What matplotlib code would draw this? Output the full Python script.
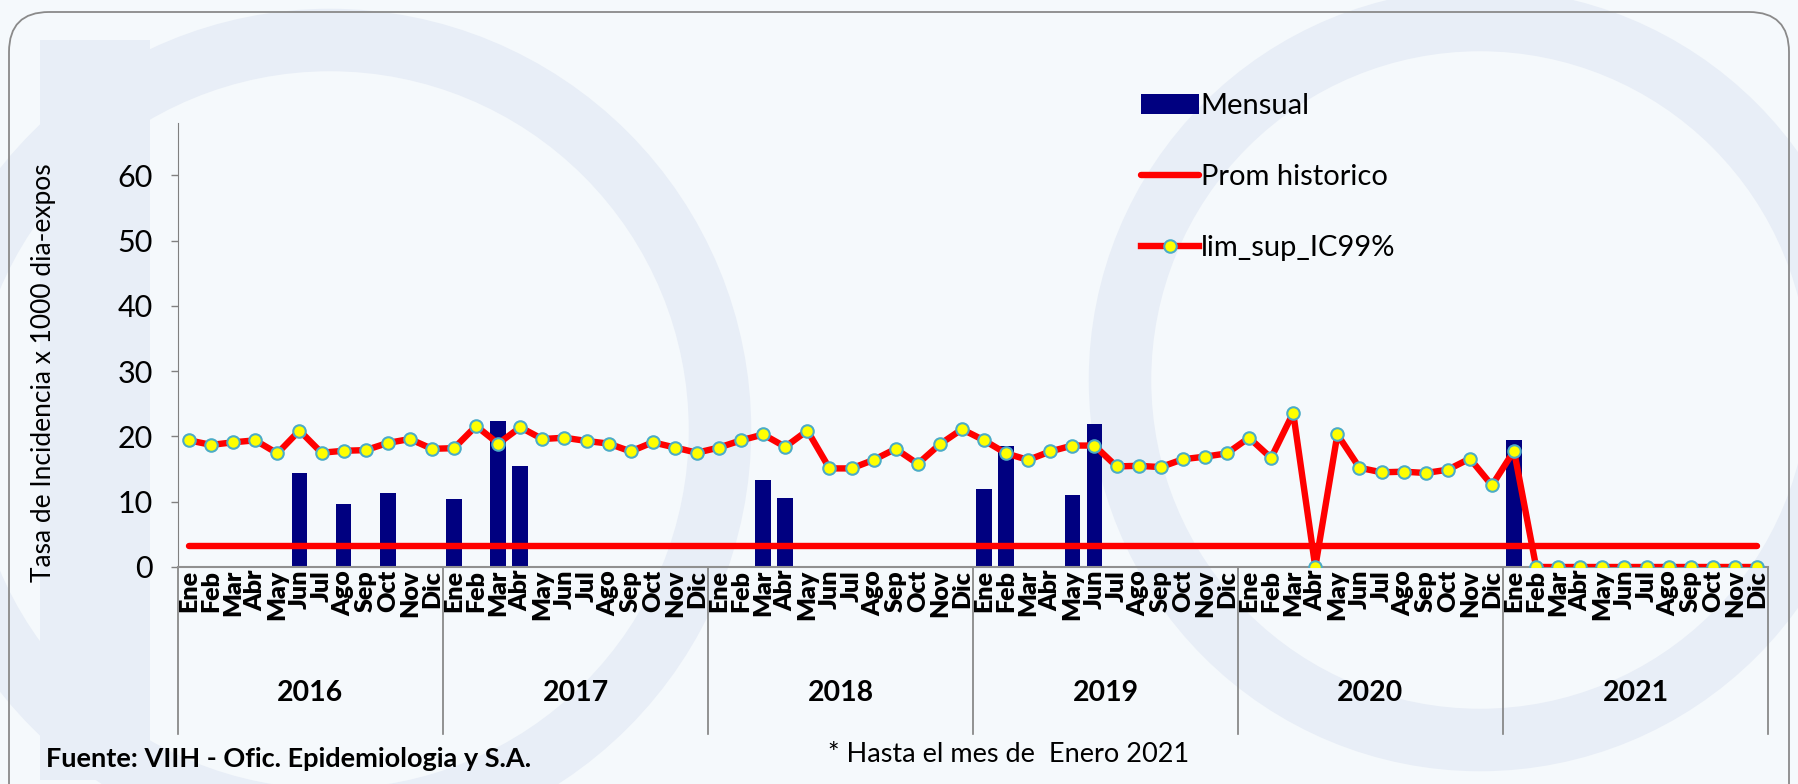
import matplotlib
matplotlib.use("Agg")
import matplotlib.pyplot as plt
from matplotlib.patches import FancyBboxPatch, Circle, Rectangle
import matplotlib.transforms as mtransforms

plt.rcParams['font.family'] = ['Lato', 'DejaVu Sans']

months = ['Ene', 'Feb', 'Mar', 'Abr', 'May', 'Jun', 'Jul', 'Ago', 'Sep', 'Oct', 'Nov', 'Dic']
years = ['2016', '2017', '2018', '2019', '2020', '2021']

mensual = [
    0, 0, 0, 0, 0, 14.4, 0, 9.7, 0, 11.4, 0, 0,
    10.4, 0, 22.4, 15.4, 0, 0, 0, 0, 0, 0, 0, 0,
    0, 0, 13.4, 10.6, 0, 0, 0, 0, 0, 0, 0, 0,
    12.0, 18.5, 0, 0, 11.0, 21.9, 0, 0, 0, 0, 0, 0,
    0, 0, 0, 0, 0, 0, 0, 0, 0, 0, 0, 0,
    19.5, 0, 0, 0, 0, 0, 0, 0, 0, 0, 0, 0,
]
lim_sup = [
    19.4, 18.7, 19.1, 19.4, 17.4, 20.9, 17.5, 17.8, 17.9, 19.0, 19.6, 18.1,
    18.2, 21.6, 18.9, 21.4, 19.6, 19.8, 19.3, 18.9, 17.7, 19.1, 18.3, 17.5,
    18.3, 19.4, 20.3, 18.4, 20.9, 15.1, 15.1, 16.4, 18.1, 15.8, 18.8, 21.1,
    19.4, 17.4, 16.4, 17.7, 18.6, 18.6, 15.4, 15.5, 15.3, 16.5, 16.9, 17.4,
    19.8, 16.7, 23.6, 0.0, 20.3, 15.2, 14.5, 14.6, 14.4, 14.9, 16.6, 12.5,
    17.8, 0, 0, 0, 0, 0, 0, 0, 0, 0, 0, 0,
]
prom_historico = 3.2
yticks = [0, 10, 20, 30, 40, 50, 60]

W, H = 1798, 784
fig = plt.figure(figsize=(W / 100, H / 100), dpi=100)
fig.patch.set_facecolor('#f5f9fc')

# faint watermark background
bg = fig.add_axes([0, 0, 1, 1], zorder=-10)
bg.set_xlim(0, W)
bg.set_ylim(H, 0)
bg.axis('off')
wm = '#e8eef7'
for (cx, cy, r, lw) in [(330, 430, 390, 45), (1480, 380, 360, 45)]:
    bg.add_patch(Circle((cx, cy), r, fill=False, ec=wm, lw=lw, zorder=-10))
bg.add_patch(Rectangle((40, 40), 110, 740, color=wm, zorder=-10, lw=0))
bg.add_patch(FancyBboxPatch((9, 12), W - 18, H + 40, boxstyle="round,pad=0,rounding_size=40",
                            fill=False, ec='#8a8a8a', lw=1.3, zorder=-9))

ax = fig.add_axes([178 / W, 1 - 567 / H, (1768 - 178) / W, (567 - 123) / H])
ax.patch.set_alpha(0)
n = len(lim_sup)
x = list(range(n))

hb = ax.bar(x, mensual, width=0.71, color='#000080', zorder=2, label='Mensual')
hp, = ax.plot(x, [prom_historico] * n, color='#ff0000', lw=4.6, solid_capstyle='round', zorder=3,
              label='Prom historico')
hl, = ax.plot(x, lim_sup, color='#ff0000', lw=4.6, marker='o', ms=9, mfc='#ffff00',
              mec='#4bacc6', mew=1.5, zorder=4, label='lim_sup_IC99%')

ax.set_xlim(-0.5, n - 0.5)
ax.set_ylim(0, 68)
ax.set_yticks(yticks)
ax.tick_params(axis='y', labelsize=22, length=5, width=1, color='#808080', pad=13)
ax.set_xticks(x)
ax.set_xticklabels(months * len(years), rotation=90, fontsize=18, fontweight='heavy')
ax.tick_params(axis='x', length=0, pad=2)
for lbl in ax.get_xticklabels():
    lbl.set_va('top')
for s in ['top', 'right']:
    ax.spines[s].set_visible(False)
ax.spines['left'].set_color('#808080')
ax.spines['bottom'].set_color('#909090')
ax.spines['bottom'].set_linewidth(1.5)

trans = mtransforms.blended_transform_factory(ax.transData, ax.transAxes)
for i in range(len(years) + 1):
    xb = i * 12 - 0.5
    ax.plot([xb, xb], [0, -0.376], transform=trans, color='#808080', lw=1.2, clip_on=False)
for i, yr in enumerate(years):
    ax.text(i * 12 + 5.5, -0.284, yr, transform=trans, ha='center', va='center',
            fontsize=20.5, fontweight='bold')

fig.text(44 / W, 1 - 373 / H, 'Tasa de Incidencia x 1000 dia-expos', rotation=90,
         ha='center', va='center', fontsize=19)

leg = ax.legend([hb, hp, hl], ['Mensual', 'Prom historico', 'lim_sup_IC99%'],
                loc='upper left', bbox_to_anchor=(1141 / W, 1 - 93 / H), bbox_transform=fig.transFigure,
                frameon=False, fontsize=21, labelspacing=1.55, handlelength=2.0,
                handletextpad=0.05, borderpad=0, borderaxespad=0)

fig.text(46 / W, 1 - 759 / H, 'Fuente: VIIH - Ofic. Epidemiologia y S.A.', ha='left', va='center',
         fontsize=19.5, fontweight='bold')
fig.text(828 / W, 1 - 755 / H, '* Hasta el mes de  Enero 2021', ha='left', va='center', fontsize=19.5)

fig.savefig('out.png', dpi=100, facecolor=fig.get_facecolor())
